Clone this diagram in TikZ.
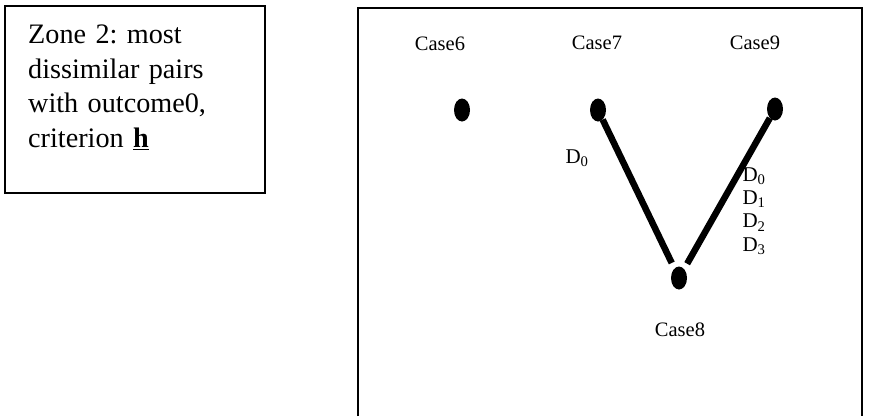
\documentclass[tikz,border=0pt]{standalone}
\usepackage{fontspec}
\setmainfont{Liberation Serif}
\frenchspacing
\usetikzlibrary{shapes.geometric}
\begin{document}
\begin{tikzpicture}[x=1pt,y=-1pt,
		dot/.style={ellipse,fill=black,minimum width=16pt,minimum height=23pt,inner sep=0pt},
		pair/.style={line width=6.5pt,shorten >=6pt,shorten <=0pt},
		casetext/.style={font=\fontsize{20.5}{24}\selectfont,inner sep=0pt},
		dtext/.style={font=\fontsize{21}{24}\selectfont,inner sep=0pt}]
	\useasboundingbox (0,0) rectangle (877,416);

	\draw[line width=2pt] (5,6) rectangle (265,193);
	\node[anchor=north west,inner sep=0pt,text width=230pt,align=left,
		font=\fontsize{28.2}{34.5}\selectfont] (zone) at (28,25)
		{Zone 2: most\\dissimilar pairs\\with outcome0,\\criterion \underline{\textbf{h}}};

	\draw[line width=2pt] (358,416) |- (862,8) -- (862,416);

	\node[dot] (c6) at (462,110) {};
	\node[dot] (c7) at (598,110) {};
	\node[dot] (c9) at (775,109) {};
	\node[dot] (c8) at (679,278) {};

	\node[casetext] (l6) at (440,44) {Case6};
	\node[casetext] (l7) at (597,43) {Case7};
	\node[casetext] (l9) at (755,43) {Case9};
	\node[casetext] (l8) at (680,330) {Case8};

	\draw[pair] (c7) -- (c8);
	\draw[pair] (c9) -- (c8);

	\node[dtext] (d70) at (577,158) {D\textsubscript{0}};
	\foreach \k in {0,...,3}{
			\node[dtext] (d9\k) at (754,176+23.3*\k) {D\textsubscript{\k}};
		}
\end{tikzpicture}
\end{document}
